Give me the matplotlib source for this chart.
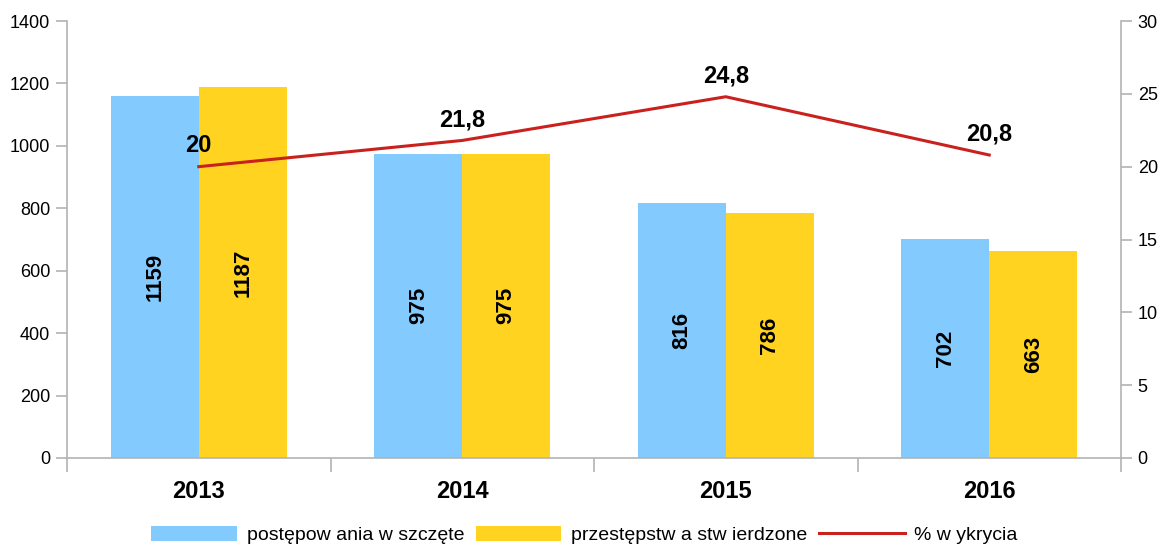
import numpy as np
import matplotlib as mpl
mpl.use('Agg')
import matplotlib.pyplot as plt

plt.rcParams['font.family'] = ['Liberation Sans', 'DejaVu Sans']

years = ['2013', '2014', '2015', '2016']
wszczete = [1159, 975, 816, 702]
stwierdzone = [1187, 975, 786, 663]
wykrycie = [20, 21.8, 24.8, 20.8]
wykrycie_labels = ['20', '21,8', '24,8', '20,8']

BLUE = '#83CAFF'
YELLOW = '#FFD320'
RED = '#C9211E'
GRAY = '#b3b3b3'

fig = plt.figure(figsize=(11.69, 5.48), dpi=100)
ax = fig.add_axes([67 / 1169, 1 - 458 / 548, (1121 - 67) / 1169, (458 - 21) / 548])
ax2 = ax.twinx()

x = np.arange(len(years))
w = 1 / 3
b1 = ax.bar(x - w / 2, wszczete, w, color=BLUE, label='postępow ania w szczęte')
b2 = ax.bar(x + w / 2, stwierdzone, w, color=YELLOW, label='przestępstw a stw ierdzone')

for bars, vals in ((b1, wszczete), (b2, stwierdzone)):
    for bar, v in zip(bars, vals):
        ax.text(bar.get_x() + bar.get_width() / 2, v / 2, str(v), rotation=90,
                ha='center', va='center', fontsize=16, fontweight='bold')

ln, = ax2.plot(x, wykrycie, color=RED, lw=2.2, label='% w ykrycia')
for xi, v, lab in zip(x, wykrycie, wykrycie_labels):
    ax2.annotate(lab, (xi, v), xytext=(0, 15), textcoords='offset points',
                 ha='center', va='center', fontsize=17, fontweight='bold')

ax.set_xlim(-0.5, len(years) - 0.5)
ax.set_ylim(0, 1400)
ax.set_yticks(range(0, 1401, 200))
ax2.set_ylim(0, 30)
ax2.set_yticks(range(0, 31, 5))

# category boundaries as x ticks, labels in the middle
ax.set_xticks(np.arange(-0.5, len(years), 1))
ax.set_xticklabels([])
ax.set_xticks(x, minor=True)
ax.set_xticklabels(years, minor=True, fontsize=17, fontweight='bold')
ax.tick_params(axis='x', which='major', length=10, color=GRAY, width=1.2)
ax.tick_params(axis='x', which='minor', length=0, pad=16)

for a in (ax, ax2):
    a.spines['top'].set_visible(False)
    for s in ('left', 'right', 'bottom'):
        a.spines[s].set_color(GRAY)
        a.spines[s].set_linewidth(1.2)
ax.spines['right'].set_visible(False)
ax2.spines['left'].set_visible(False)
ax2.spines['bottom'].set_visible(False)
ax.tick_params(axis='y', length=8, color=GRAY, width=1.2, labelsize=13, pad=4)
ax2.tick_params(axis='y', length=8, color=GRAY, width=1.2, labelsize=13, pad=4)

fig.legend(handles=[b1, b2, ln], loc='center', bbox_to_anchor=(0.5, 1 - 535 / 548),
           ncol=3, frameon=False, fontsize=14, handlelength=4.4, handleheight=0.8,
           columnspacing=0.6, handletextpad=0.5, borderpad=0)

fig.savefig('out.png', dpi=100)
